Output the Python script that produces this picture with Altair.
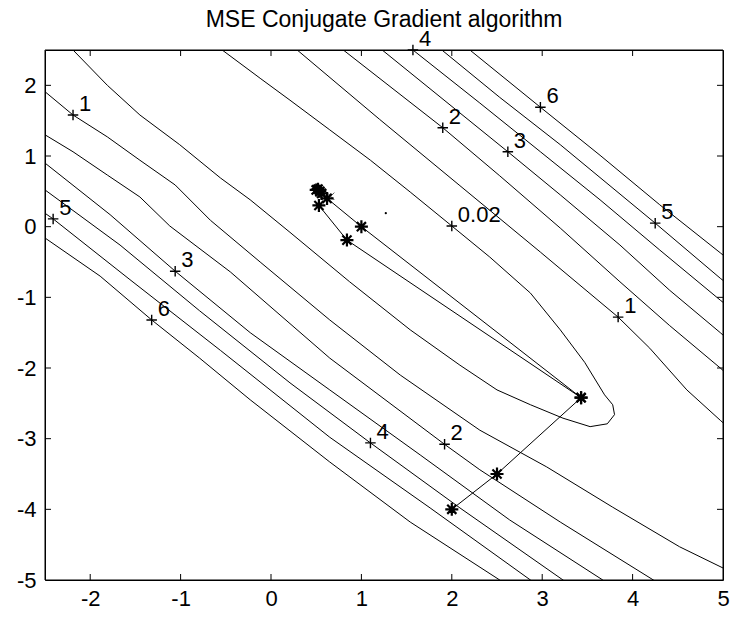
import altair as alt
import pandas as pd

FONT = "Liberation Sans, Arial, Helvetica, sans-serif"

# ---- contour traces (x, y), one list pair per branch ----
c002_x = [-0.54, -0.12, 0.21, 0.65, 1.10, 1.54, 2.00, 2.42, 2.87, 3.20, 3.47, 3.69, 3.78, 3.80,
          3.72, 3.53, 3.23, 2.87, 2.50, 2.09, 1.54, 0.87, 0.21, -0.23, -0.56, -1.01, -1.45, -1.81, -2.19]
c002_y = [2.50, 2.10, 1.79, 1.37, 0.94, 0.49, 0.01, -0.43, -0.94, -1.46, -1.92, -2.38, -2.52, -2.66,
          -2.79, -2.83, -2.71, -2.52, -2.31, -1.96, -1.46, -0.78, -0.08, 0.38, 0.69, 1.16, 1.58, 2.00, 2.50]

c1_up_x = [0.18, 0.29, 1.20, 2.09, 2.98, 3.84, 4.19, 4.60, 4.97, 5.20]
c1_up_y = [2.64, 2.50, 1.52, 0.58, -0.36, -1.28, -1.72, -2.31, -2.74, -3.00]
c1_lo_x = [-2.67, -2.50, -2.19, -1.81, -1.45, -1.06, -0.67, -0.12, 0.65, 1.43, 2.31, 3.05, 3.78, 4.52, 5.00, 5.20]
c1_lo_y = [2.08, 1.91, 1.58, 1.27, 0.94, 0.59, 0.09, -0.50, -1.32, -2.10, -2.88, -3.40, -3.97, -4.53, -4.83, -4.96]

c2_up_x = [0.65, 0.80, 1.90, 2.53, 3.20, 3.86, 4.41, 4.97, 5.19]
c2_up_y = [2.64, 2.50, 1.40, 0.72, -0.02, -0.78, -1.40, -2.00, -2.25]
c2_lo_x = [-2.67, -2.50, -2.19, -1.81, -1.45, -1.12, -0.45, 0.65, 1.92, 2.31, 3.20, 4.23, 4.41]
c2_lo_y = [1.44, 1.30, 1.06, 0.73, 0.42, 0.01, -0.64, -1.86, -3.08, -3.44, -4.18, -5.00, -5.14]

c3_up_x = [1.10, 1.23, 2.62, 3.20, 3.86, 4.41, 4.97, 5.19]
c3_up_y = [2.64, 2.50, 1.06, 0.45, -0.26, -0.90, -1.50, -1.75]
c3_lo_x = [-2.67, -2.50, -1.78, -1.06, -0.23, 0.65, 1.65, 2.64, 3.67, 3.86]
c3_lo_y = [1.08, 0.90, 0.17, -0.63, -1.50, -2.31, -3.23, -4.15, -5.00, -5.17]

c4_up_x = [1.43, 1.57, 2.31, 2.98, 3.64, 4.30, 4.97, 5.19]
c4_up_y = [2.64, 2.50, 1.75, 1.06, 0.38, -0.33, -1.04, -1.26]
c4_lo_x = [-2.67, -2.50, -1.67, -0.79, 0.21, 1.10, 2.09, 3.23, 3.42]
c4_lo_y = [0.66, 0.52, -0.26, -1.19, -2.21, -3.06, -3.98, -5.00, -5.17]

c5_up_x = [1.76, 1.89, 2.53, 3.20, 4.25, 4.97, 5.19]
c5_up_y = [2.64, 2.50, 1.83, 1.16, 0.05, -0.73, -0.95]
c5_lo_x = [-2.67, -2.50, -2.41, -1.56, -0.56, 0.65, 1.76, 2.87, 3.04]
c5_lo_y = [0.35, 0.19, 0.11, -0.75, -1.75, -2.98, -3.98, -5.00, -5.17]

c6_up_x = [2.07, 2.20, 2.98, 3.64, 4.30, 4.97, 5.19]
c6_up_y = [2.64, 2.50, 1.69, 1.01, 0.31, -0.37, -0.60]
c6_lo_x = [-2.67, -2.50, -1.89, -1.32, -0.79, -0.23, 0.65, 1.54, 2.53, 2.70]
c6_lo_y = [-0.02, -0.16, -0.70, -1.32, -1.86, -2.45, -3.33, -4.18, -5.00, -5.17]

# ---- contour labels (marker position and text) ----
lab_x = [2.00, 3.84, -2.19, 1.90, 1.92, 2.62, -1.06, 1.57, 1.10, 4.25, -2.41, 2.98, -1.32]
lab_y = [0.01, -1.28, 1.58, 1.40, -3.08, 1.06, -0.63, 2.50, -3.06, 0.05, 0.11, 1.69, -1.32]
lab_t = ["0.02", "1", "1", "2", "2", "3", "3", "4", "4", "5", "5", "6", "6"]

# ---- conjugate gradient iterates ----
path_a_x = [2.0, 2.5, 3.43, 1.0, 0.62, 0.52, 0.56, 0.50, 0.54]
path_a_y = [-4.0, -3.5, -2.42, 0.0, 0.40, 0.53, 0.47, 0.52, 0.50]
path_b_x = [3.43, 0.84, 0.53]
path_b_y = [-2.42, -0.19, 0.30]
xmark_x = [0.53, 0.66]
xmark_y = [0.30, 0.43]
opt_x = [1.27]
opt_y = [0.19]

x_ticks = [-2, -1, 0, 1, 2, 3, 4, 5]
y_ticks = [-5, -4, -3, -2, -1, 0, 1, 2]

TITLE = "MSE Conjugate Gradient algorithm"
W, H = 678, 530
TICK = 6
FS = 22

branches = {
    "0.02": (c002_x, c002_y),
    "1u": (c1_up_x, c1_up_y), "1l": (c1_lo_x, c1_lo_y),
    "2u": (c2_up_x, c2_up_y), "2l": (c2_lo_x, c2_lo_y),
    "3u": (c3_up_x, c3_up_y), "3l": (c3_lo_x, c3_lo_y),
    "4u": (c4_up_x, c4_up_y), "4l": (c4_lo_x, c4_lo_y),
    "5u": (c5_up_x, c5_up_y), "5l": (c5_lo_x, c5_lo_y),
    "6u": (c6_up_x, c6_up_y), "6l": (c6_lo_x, c6_lo_y),
}
rows = []
for name, (bx, by) in branches.items():
    for i, (a, b) in enumerate(zip(bx, by)):
        rows.append({"x": a, "y": b, "branch": name, "i": i})
contours = pd.DataFrame(rows)

prow = []
for name, (bx, by) in {"a": (path_a_x, path_a_y), "b": (path_b_x, path_b_y)}.items():
    for i, (a, b) in enumerate(zip(bx, by)):
        prow.append({"x": a, "y": b, "run": name, "i": i})
path = pd.DataFrame(prow)

labels = pd.DataFrame({"x": lab_x, "y": lab_y, "t": lab_t})
xmarks = pd.DataFrame({"x": xmark_x, "y": xmark_y})
opt = pd.DataFrame({"x": opt_x, "y": opt_y})
xt = pd.DataFrame({"v": x_ticks[:-1]})
yt = pd.DataFrame({"v": y_ticks[1:]})
title_df = pd.DataFrame({"t": [TITLE]})

xs = alt.Scale(domain=[-2.5, 5], nice=False, zero=False)
ys = alt.Scale(domain=[-5, 2.5], nice=False, zero=False)

# plain hyphen-minus in the tick labels
LBL = "'' + datum.value"

X = alt.X("x:Q", scale=xs, axis=alt.Axis(values=x_ticks, labelExpr=LBL, title=None, grid=False,
                                         ticks=False, domain=False, labelPadding=8,
                                         labelFontSize=FS, labelFont=FONT, labelColor="black",
                                         labelFlush=False, labelOverlap=False))
Y = alt.Y("y:Q", scale=ys, axis=alt.Axis(values=y_ticks, labelExpr=LBL, title=None, grid=False,
                                         ticks=False, domain=False, labelPadding=9,
                                         labelFontSize=FS, labelFont=FONT, labelColor="black",
                                         labelFlush=False, labelOverlap=False))

star = "M-1,0L1,0M0,-1L0,1M-0.7,-0.7L0.7,0.7M-0.7,0.7L0.7,-0.7"
plus = "M-1,0L1,0M0,-1L0,1"
cross = "M-0.7,-0.7L0.7,0.7M-0.7,0.7L0.7,-0.7"

lines = alt.Chart(contours).mark_line(color="black", strokeWidth=1, clip=True).encode(
    x=X, y=Y, detail="branch:N", order="i:Q")

lab_pts = alt.Chart(labels).mark_point(shape=plus, size=110, color="black", strokeWidth=1.4,
                                       filled=False, opacity=1).encode(x="x:Q", y="y:Q")
lab_txt = alt.Chart(labels).mark_text(align="left", baseline="alphabetic", dx=6, dy=-4,
                                      fontSize=FS, font=FONT, color="black").encode(
    x="x:Q", y="y:Q", text="t:N")

path_line = alt.Chart(path).mark_line(color="black", strokeWidth=1).encode(
    x="x:Q", y="y:Q", detail="run:N", order="i:Q")
path_pts = alt.Chart(path).mark_point(shape=star, size=170, color="black", strokeWidth=2.2,
                                      filled=False, opacity=1).encode(x="x:Q", y="y:Q")
x_pts = alt.Chart(xmarks).mark_point(shape=cross, size=110, color="#555555", strokeWidth=1,
                                     filled=False, opacity=1).encode(x="x:Q", y="y:Q")
opt_pt = alt.Chart(opt).mark_point(shape="circle", size=5, color="black", filled=True,
                                   opacity=1).encode(x="x:Q", y="y:Q")

# axes box
frame = alt.Chart(title_df).mark_rect(filled=False, stroke="black", strokeWidth=1).encode(
    x=alt.value(0), x2=alt.value(W), y=alt.value(0), y2=alt.value(H))

# inward tick marks on all four sides
t_bot = alt.Chart(xt).mark_tick(orient="vertical", size=TICK, thickness=1, color="black",
                                opacity=1).encode(x="v:Q", y=alt.value(H - TICK / 2))
t_top = alt.Chart(xt).mark_tick(orient="vertical", size=TICK, thickness=1, color="black",
                                opacity=1).encode(x="v:Q", y=alt.value(TICK / 2))
t_left = alt.Chart(yt).mark_tick(orient="horizontal", size=TICK, thickness=1, color="black",
                                 opacity=1).encode(y="v:Q", x=alt.value(TICK / 2))
t_right = alt.Chart(yt).mark_tick(orient="horizontal", size=TICK, thickness=1, color="black",
                                  opacity=1).encode(y="v:Q", x=alt.value(W - TICK / 2))

# plot title, centred above the axes box
title_mark = alt.Chart(title_df).mark_text(align="center", baseline="alphabetic", fontSize=23,
                                           font=FONT, color="black").encode(
    x=alt.value(W / 2), y=alt.value(-23), text="t:N")

chart = alt.layer(
    lines, path_line, frame, t_bot, t_top, t_left, t_right,
    opt_pt, x_pts, path_pts, lab_pts, lab_txt, title_mark,
).properties(
    width=W, height=H,
    padding={"left": 45, "top": 50, "right": 9, "bottom": 42},
    autosize="none",
    background="white",
).configure_view(stroke="black", strokeWidth=1)

chart.save("out.html", embed_options={"renderer": "svg", "actions": False})
